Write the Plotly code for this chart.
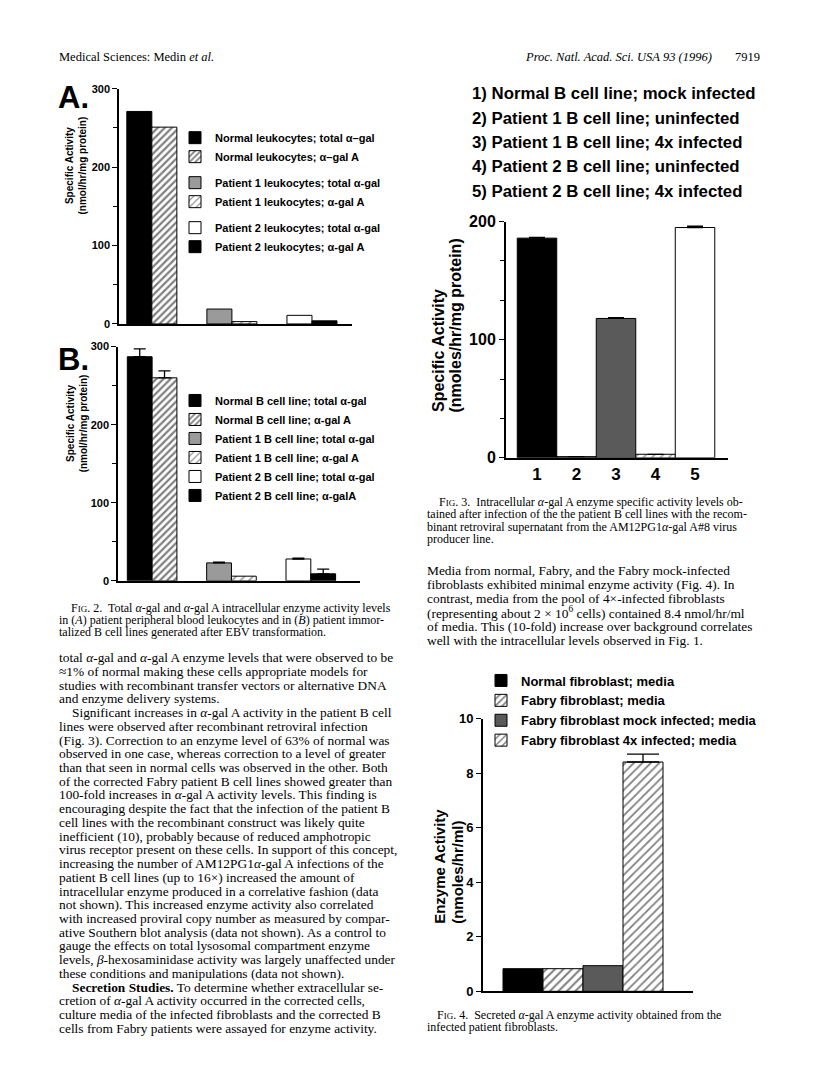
import plotly.graph_objects as go

W, H = 816, 1082


def px(x):
    return x / W


def py(y):
    return 1 - y / H


SANS = "Liberation Sans, Arial, Helvetica, sans-serif"
SERIF = "Liberation Serif, Times New Roman, serif"

# ---------------- data ----------------
fig2_groups = ["Normal", "Patient 1", "Patient 2"]

# Fig 2A  leukocytes
leuk_total = [271, 19, 11]
leuk_galA = [251, 3, 4]
leuk_names_total = ["Normal leukocytes; total α–gal", "Patient 1 leukocytes; total α-gal",
                    "Patient 2 leukocytes; total α-gal"]
leuk_names_galA = ["Normal leukocytes; α–gal A", "Patient 1 leukocytes; α-gal A",
                   "Patient 2 leukocytes; α-gal A"]

# Fig 2B  B cell lines
bcell_total = [287, 23, 28]
bcell_total_err = [10, 1, 1]
bcell_galA = [260, 6, 9]
bcell_galA_err = [9, 0, 6]
bcell_names_total = ["Normal B cell line; total α-gal", "Patient 1 B cell line; total α-gal",
                     "Patient 2 B cell line; total α-gal"]
bcell_names_galA = ["Normal B cell line; α-gal A", "Patient 1 B cell line; α-gal A",
                    "Patient 2 B cell line; α-galA"]

fig2_yticks = [0, 100, 200, 300]

# Fig 3
fig3_labels = ["1", "2", "3", "4", "5"]
fig3_values = [186, 1, 118, 3, 195]
fig3_err = [0.6, 0, 0.6, 0, 1.2]
fig3_list = ["1) Normal B cell line; mock infected",
             "2) Patient 1 B cell line; uninfected",
             "3) Patient 1 B cell line; 4x infected",
             "4) Patient 2 B cell line; uninfected",
             "5) Patient 2 B cell line; 4x infected"]
fig3_yticks = [0, 100, 200]

# Fig 4
fig4_labels = ["Normal fibroblast; media", "Fabry fibroblast; media",
               "Fabry fibroblast mock infected; media", "Fabry fibroblast 4x infected; media"]
fig4_values = [0.83, 0.83, 0.94, 8.41]
fig4_err = [0, 0, 0, 0.29]
fig4_yticks = [0, 2, 4, 6, 8, 10]

# ---------------- styles ----------------
LINE = dict(color="black", width=1)
total_styles = [dict(color="black", line=LINE),
                dict(color="#9a9a9a", line=LINE),
                dict(color="white", line=LINE)]
galA_styles = [dict(color="white", line=LINE,
                    pattern=dict(shape="/", fgcolor="black", bgcolor="white", size=5, solidity=0.45)),
               dict(color="white", line=LINE,
                    pattern=dict(shape="/", fgcolor="black", bgcolor="white", size=6, solidity=0.22)),
               dict(color="black", line=LINE)]
fig3_colors = ["black", "#555555", "#5a5a5a", "white", "white"]
fig3_patterns = ["", "", "", "/", ""]
fig4_styles = [dict(color="black", line=LINE),
               dict(color="white", line=LINE,
                    pattern=dict(shape="/", fgcolor="black", bgcolor="white", size=6, solidity=0.35)),
               dict(color="#5a5a5a", line=LINE),
               dict(color="white", line=LINE,
                    pattern=dict(shape="/", fgcolor="black", bgcolor="white", size=6, solidity=0.3))]

fig = go.Figure()


def err(e, capw):
    if e and e > 0:
        return dict(type="data", array=[e], arrayminus=[0], symmetric=False,
                    color="black", thickness=1.3, width=capw)
    return dict(visible=False)


BW = 0.3125
# Fig 2A and 2B traces
for (xa, ya, leg, totals, tot_err, galA, galA_err, n_tot, n_A) in [
    ("x", "y", "legend", leuk_total, [0, 0, 0], leuk_galA, [0, 0, 0], leuk_names_total, leuk_names_galA),
    ("x2", "y2", "legend2", bcell_total, bcell_total_err, bcell_galA, bcell_galA_err,
     bcell_names_total, bcell_names_galA),
]:
    for i, g in enumerate(fig2_groups):
        fig.add_trace(go.Bar(x=[g], y=[totals[i]], name=n_tot[i], marker=total_styles[i],
                             width=BW, offset=-BW, xaxis=xa, yaxis=ya, legend=leg,
                             legendgroup=leg + g, error_y=err(tot_err[i], 6)))
        fig.add_trace(go.Bar(x=[g], y=[galA[i]], name=n_A[i], marker=galA_styles[i],
                             width=BW, offset=0, xaxis=xa, yaxis=ya, legend=leg,
                             legendgroup=leg + g, error_y=err(galA_err[i], 6)))

# Fig 3
fig.add_trace(go.Bar(x=fig3_labels, y=fig3_values, width=1.0, xaxis="x3", yaxis="y3",
                     showlegend=False,
                     marker=dict(color=fig3_colors, line=LINE,
                                 pattern=dict(shape=fig3_patterns, fgcolor="black", bgcolor="white",
                                              size=6, solidity=0.3)),
                     error_y=dict(type="data", array=fig3_err, arrayminus=[0] * 5, symmetric=False,
                                  color="black", thickness=1.3, width=8)))

# Fig 4
for i, lab in enumerate(fig4_labels):
    fig.add_trace(go.Bar(x=[lab], y=[fig4_values[i]], name=lab, marker=fig4_styles[i], width=1.0,
                         xaxis="x4", yaxis="y4", legend="legend3", error_y=err(fig4_err[i], 16)))

# ---------------- axes ----------------
def xax(d0, d1, anchor, rng, lw, cats, showlabels=False, tfs=12):
    return dict(domain=[px(d0), px(d1)], anchor=anchor, range=rng, showline=True, linecolor="black",
                linewidth=lw, showgrid=False, zeroline=False, ticks="", fixedrange=True,
                showticklabels=showlabels, type="category", categoryorder="array", categoryarray=cats,
                tickfont=dict(family=SANS, size=tfs, color="black", weight="bold"))


def yax(top, bottom, anchor, rng, lw, tickvals, minor_dtick, tfs):
    d = dict(domain=[py(bottom), py(top)], anchor=anchor, range=rng, showline=True, linecolor="black",
             linewidth=lw, showgrid=False, zeroline=False, ticks="outside", ticklen=5, tickwidth=1.3,
             tickcolor="black", tickvals=tickvals, fixedrange=True,
             tickfont=dict(family=SANS, size=tfs, color="black", weight="bold"))
    if minor_dtick:
        d["minor"] = dict(dtick=minor_dtick, tick0=0, ticks="outside", ticklen=4, tickwidth=1,
                          tickcolor="black", showgrid=False)
    return d


fig.update_layout(
    xaxis=xax(119, 352, "y", [-0.41, 2.5], 1.5, fig2_groups),
    yaxis=yax(82, 321, "x", [0, 300], 1.5, fig2_yticks, 50, 11),
    xaxis2=xax(118, 360, "y2", [-0.43, 2.62], 1.5, fig2_groups),
    yaxis2=yax(344, 582, "x2", [0, 300], 1.5, fig2_yticks, 50, 11),
    xaxis3=xax(506, 728, "y3", [-0.785, 4.835], 2, fig3_labels, True, 17),
    yaxis3=yax(217, 457, "x3", [0, 200], 2, fig3_yticks, 100 / 3, 16),
    xaxis4=xax(483, 693, "y4", [-1.0, 4.25], 2, fig4_labels),
    yaxis4=yax(722, 999, "x4", [0, 10], 2, fig4_yticks, None, 13),
)

legfont = dict(family=SANS, color="black", weight="bold")
fig.update_layout(
    barmode="overlay",
    width=W, height=H, margin=dict(l=0, r=0, t=0, b=0),
    paper_bgcolor="white", plot_bgcolor="rgba(0,0,0,0)",
    legend=dict(x=px(175), y=py(117), xanchor="left", yanchor="top", font=dict(size=11, **legfont),
                tracegroupgap=7, traceorder="grouped", bgcolor="rgba(0,0,0,0)",
                itemclick=False, itemdoubleclick=False),
    legend2=dict(x=px(175), y=py(384), xanchor="left", yanchor="top", font=dict(size=11, **legfont),
                 tracegroupgap=0, traceorder="grouped", bgcolor="rgba(0,0,0,0)",
                 itemclick=False, itemdoubleclick=False),
    legend3=dict(x=px(481), y=py(668), xanchor="left", yanchor="top", font=dict(size=13, **legfont),
                 tracegroupgap=0, bgcolor="rgba(0,0,0,0)", itemclick=False, itemdoubleclick=False),
)

# ---------------- text ----------------
ann = []


def text(x, y, s, size, family=SERIF, bold=False, anchor="left", **kw):
    d = dict(x=px(x), y=py(y), xref="paper", yref="paper", text=s, showarrow=False,
             xanchor=anchor, yanchor=kw.pop("yanchor", "middle"),
             font=dict(family=family, size=size, color="black", weight="bold" if bold else "normal"))
    d.update(kw)
    ann.append(d)


BODY = 13.4
CAP = 12

# header
text(57, 50, "Medical Sciences: Medin <i>et al.</i>", 12.5)
text(714, 50, "<i>Proc. Natl. Acad. Sci. USA 93 (1996)</i>", 12.5, anchor="right")
text(762, 50, "7919", 12.5, anchor="right")

# panel letters
text(56, 91, "A.", 31, SANS, True)
text(56, 357, "B.", 31, SANS, True)

# y titles
text(76, 160, "Specific Activity<br>(nmol/hr/mg protein)", 10, SANS, True, anchor="center",
     textangle=-90)
text(77, 422, "Specific Activity<br>(nmol/hr/mg protein)", 10, SANS, True, anchor="center",
     textangle=-90)
text(438, 413, "Specific Activity", 16, SANS, True, anchor="center", textangle=-90, yanchor="bottom")
text(456, 413, "(nmoles/hr/mg protein)", 16, SANS, True, anchor="center", textangle=-90,
     yanchor="bottom")
text(440, 933, "Enzyme Activity", 15, SANS, True, anchor="center", textangle=-90, yanchor="bottom")
text(458, 933, "(nmoles/hr/ml)", 15, SANS, True, anchor="center", textangle=-90, yanchor="bottom")

# Fig 3 numbered list
for i, s in enumerate(fig3_list):
    text(470, 87 + 24.8 * i, s, 16.8, SANS, True)

SC = "<span style='font-size:9px'>IG</span>"
# Fig 2 caption
fig2_caption = [
    (69, f"F{SC}. 2.  Total <i>α</i>-gal and <i>α</i>-gal A intracellular enzyme activity levels"),
    (57, "in (<i>A</i>) patient peripheral blood leukocytes and in (<i>B</i>) patient immor-"),
    (57, "talized B cell lines generated after EBV transformation."),
]
for i, (x, s) in enumerate(fig2_caption):
    text(x, 610 + 12.2 * i, s, CAP)

# Left body text
left_body = [
    (57, "total <i>α</i>-gal and <i>α</i>-gal A enzyme levels that were observed to be"),
    (57, "≈1% of normal making these cells appropriate models for"),
    (57, "studies with recombinant transfer vectors or alternative DNA"),
    (57, "and enzyme delivery systems."),
    (70, "Significant increases in <i>α</i>-gal A activity in the patient B cell"),
    (57, "lines were observed after recombinant retroviral infection"),
    (57, "(Fig. 3). Correction to an enzyme level of 63% of normal was"),
    (57, "observed in one case, whereas correction to a level of greater"),
    (57, "than that seen in normal cells was observed in the other. Both"),
    (57, "of the corrected Fabry patient B cell lines showed greater than"),
    (57, "100-fold increases in <i>α</i>-gal A activity levels. This finding is"),
    (57, "encouraging despite the fact that the infection of the patient B"),
    (57, "cell lines with the recombinant construct was likely quite"),
    (57, "inefficient (10), probably because of reduced amphotropic"),
    (57, "virus receptor present on these cells. In support of this concept,"),
    (57, "increasing the number of AM12PG1<i>α</i>-gal A infections of the"),
    (57, "patient B cell lines (up to 16×) increased the amount of"),
    (57, "intracellular enzyme produced in a correlative fashion (data"),
    (57, "not shown). This increased enzyme activity also correlated"),
    (57, "with increased proviral copy number as measured by compar-"),
    (57, "ative Southern blot analysis (data not shown). As a control to"),
    (57, "gauge the effects on total lysosomal compartment enzyme"),
    (57, "levels, <i>β</i>-hexosaminidase activity was largely unaffected under"),
    (57, "these conditions and manipulations (data not shown)."),
    (70, "<b>Secretion Studies.</b> To determine whether extracellular se-"),
    (57, "cretion of <i>α</i>-gal A activity occurred in the corrected cells,"),
    (57, "culture media of the infected fibroblasts and the corrected B"),
    (57, "cells from Fabry patients were assayed for enzyme activity."),
]
for i, (x, s) in enumerate(left_body):
    text(x, 660 + 13.95 * i, s, BODY)

# Fig 3 caption
fig3_caption = [
    (437, f"F{SC}. 3.  Intracellular <i>α</i>-gal A enzyme specific activity levels ob-"),
    (425, "tained after infection of the the patient B cell lines with the recom-"),
    (425, "binant retroviral supernatant from the AM12PG1<i>α</i>-gal A#8 virus"),
    (425, "producer line."),
]
for i, (x, s) in enumerate(fig3_caption):
    text(x, 502 + 12.4 * i, s, CAP)

right_body = [
    "Media from normal, Fabry, and the Fabry mock-infected",
    "fibroblasts exhibited minimal enzyme activity (Fig. 4). In",
    "contrast, media from the pool of 4×-infected fibroblasts",
    "(representing about 2 × 10<sup>6</sup> cells) contained 8.4 nmol/hr/ml",
    "of media. This (10-fold) increase over background correlates",
    "well with the intracellular levels observed in Fig. 1.",
]
for i, s in enumerate(right_body):
    text(425, 571 + 14.4 * i, s, BODY)

fig4_caption = [
    (435, f"F{SC}. 4.  Secreted <i>α</i>-gal A enzyme activity obtained from the"),
    (425, "infected patient fibroblasts."),
]
for i, (x, s) in enumerate(fig4_caption):
    text(x, 1023 + 12.4 * i, s, CAP)

fig.update_layout(annotations=ann, showlegend=True)

fig.write_html("out.html", config={"displayModeBar": False},
               post_script="document.body.style.margin='0';")
